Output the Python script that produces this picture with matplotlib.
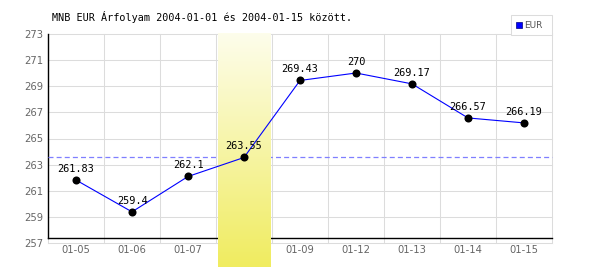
import numpy as np
import matplotlib
matplotlib.use('Agg')
import matplotlib.pyplot as plt
from matplotlib.patches import Rectangle

dates = ['01-05', '01-06', '01-07', '01-08', '01-09', '01-12', '01-13', '01-14', '01-15']
rates = [261.83, 259.4, 262.1, 263.55, 269.43, 270.0, 269.17, 266.57, 266.19]
yticks = [257, 259, 261, 263, 265, 267, 269, 271, 273]
highlight = 3
title = 'MNB EUR Árfolyam 2004-01-01 és 2004-01-15 között.'
series_name = 'EUR'

W, H = 600, 270
fig = plt.figure(figsize=(W / 100, H / 100), dpi=100)
fig.patch.set_facecolor('white')

def fx(x):
    return x / W

def fy(y):
    return 1 - y / H

# plot area in pixels
left, right, top, bottom = 48, 552, 33.7, 243.3
ax = fig.add_axes([fx(left), fy(bottom), fx(right - left), (bottom - top) / H])
ax.set_xlim(-0.5, len(dates) - 0.5)
ax.set_ylim(257, 273)
for s in ax.spines.values():
    s.set_visible(False)
ax.set_facecolor('none')

grid_c = '#dcdcdc'
lw = 0.75
n = len(dates)
for yv in yticks:
    ax.plot([-0.5, n - 0.5], [yv, yv], color=grid_c, lw=lw, zorder=1, clip_on=False)
for k in range(n + 1):
    ax.plot([k - 0.5, k - 0.5], [257, 273], color=grid_c, lw=lw, zorder=1, clip_on=False)

# axis lines
ax.plot([-0.5, n - 0.5], [257.38, 257.38], color='black', lw=1.0, zorder=2, clip_on=False)
ax.plot([-0.5, -0.5], [257.38, 273], color='black', lw=1.0, zorder=2, clip_on=False)

# reference line at highlighted value
ax.plot([-0.5, n - 0.5], [rates[highlight], rates[highlight]],
        color='#7f7fff', lw=0.9, ls=(0, (4, 2.5)), zorder=2, clip_on=False)

# highlight band with gradient
grad = np.linspace(0, 1, 100)[:, None]
c_top = np.array([253, 253, 235]) / 255
c_bot = np.array([240, 236, 96]) / 255
img = c_top[None, None, :] * (1 - grad[:, :, None]) + c_bot[None, None, :] * grad[:, :, None]
ax.imshow(img, extent=(highlight - 0.46, highlight + 0.48, 255.2, 273), aspect='auto',
          zorder=3, clip_on=False, interpolation='bilinear')

x = np.arange(n)
ax.plot(x, rates, color='#0000ff', lw=0.8, zorder=4)
ax.plot(x, rates, 'o', color='black', ms=5.8, mew=0, zorder=5)
for xi, v in zip(x, rates):
    ax.annotate(f'{v:g}', (xi, v), xytext=(0, 4.5), textcoords='offset points',
                ha='center', va='bottom', family='DejaVu Sans Mono', fontsize=7.4,
                color='black', zorder=6)

ax.set_xticks(x)
ax.set_xticklabels(dates)
ax.set_yticks(yticks)
ax.tick_params(length=0, labelsize=7.2, labelcolor='#666666')
ax.tick_params(axis='x', pad=1)
ax.tick_params(axis='y', pad=3.6)
ax.set_xlim(-0.5, n - 0.5)
ax.set_ylim(257, 273)

fig.text(fx(52), fy(17), title, family='DejaVu Sans Mono', fontsize=7.3,
         ha='left', va='center', color='black')

# legend
fig.patches.append(Rectangle((fx(511), fy(35)), fx(41), 20 / H, transform=fig.transFigure,
                             facecolor='white', edgecolor=grid_c, lw=lw))
fig.patches.append(Rectangle((fx(516), fy(28)), fx(6), 6 / H, transform=fig.transFigure,
                             facecolor='#0000ff', edgecolor='#000080', lw=0.5))
fig.text(fx(524), fy(25), series_name, fontsize=6.5, color='#555555', ha='left', va='center')

fig.savefig('out.png', dpi=100)
